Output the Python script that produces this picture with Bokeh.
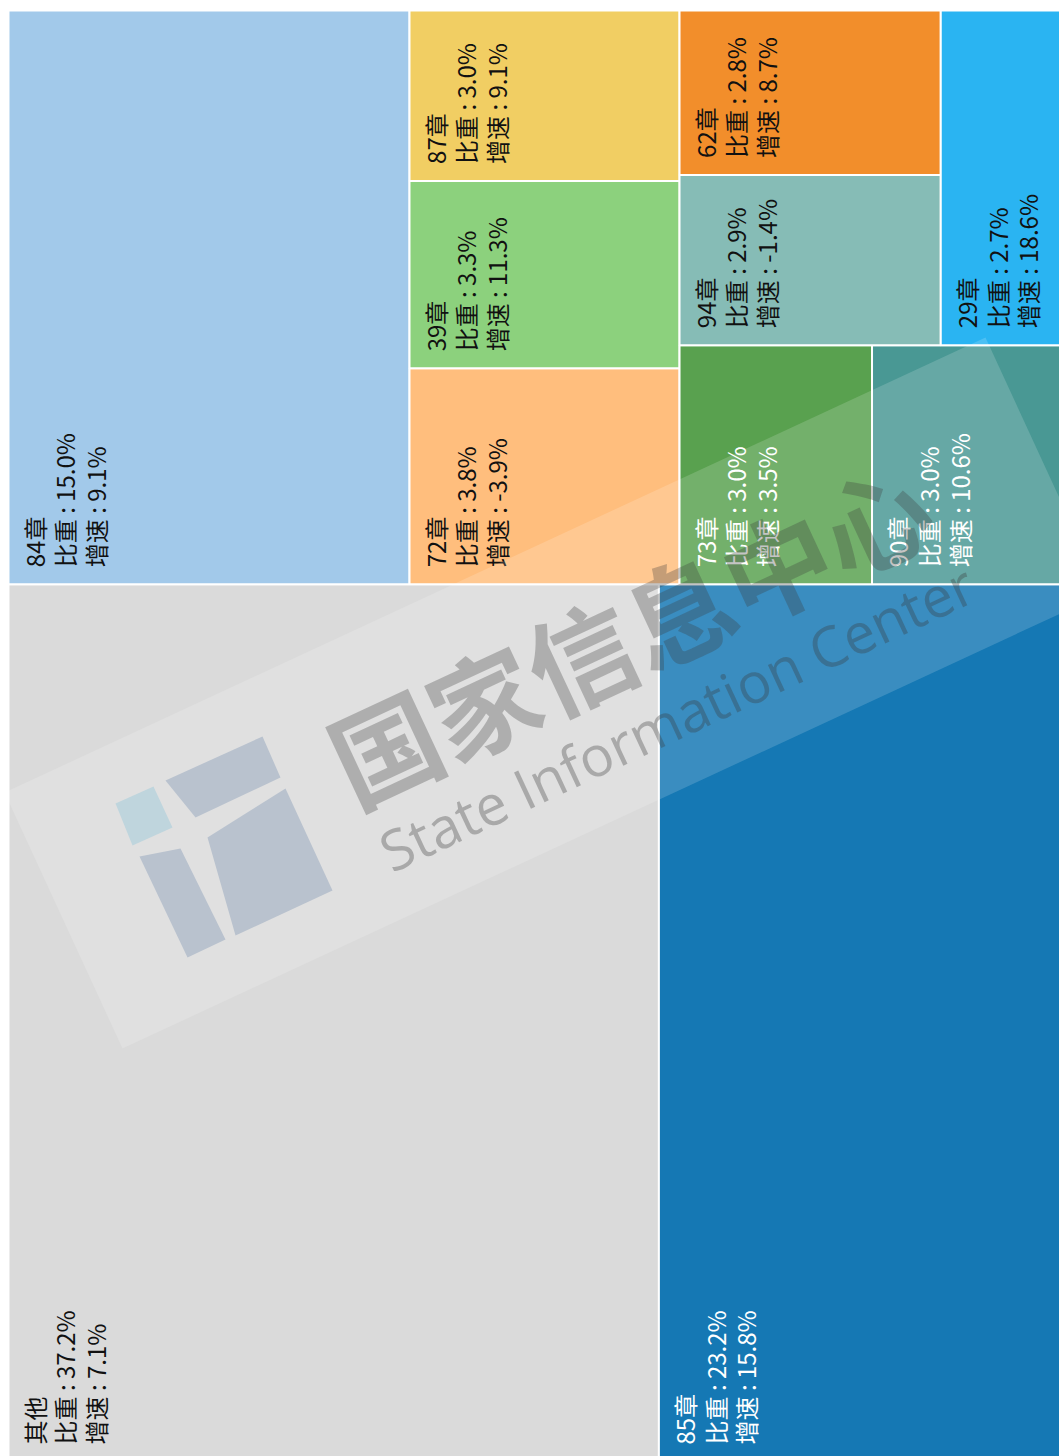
import math
from bokeh.plotting import figure
from bokeh.models import Range1d, ColumnDataSource
from bokeh.embed import file_html
from bokeh.resources import INLINE
from bokeh.core.properties import value

# ---------------- data ----------------
names = ["其他", "85章", "84章", "72章", "39章", "87章", "73章", "90章", "94章", "62章", "29章"]
shares = [37.2, 23.2, 15.0, 3.8, 3.3, 3.0, 3.0, 3.0, 2.9, 2.8, 2.7]      # 比重 %
growth = [7.1, 15.8, 9.1, -3.9, 11.3, 9.1, 3.5, 10.6, -1.4, 8.7, 18.6]   # 增速 %

# ---------------- styles ----------------
colors = ["#dadada", "#1578b4", "#a2c9ea", "#ffbe7d", "#8cd17d", "#f1ce63",
          "#59a14f", "#499894", "#86bcb6", "#f28e2b", "#2ab4f2"]
label_colors = ["#111111", "#ffffff", "#111111", "#111111", "#111111", "#111111",
                "#ffffff", "#ffffff", "#111111", "#111111", "#111111"]

# treemap extent (laid out horizontally, then shown rotated a quarter turn)
TW, TH = 1451.0, 1056.0
X0 = 8.0


def squarify(vals, W, H, ratio=(1 + 5 ** 0.5) / 2):
    total = float(sum(vals))
    areas = [v / total * W * H for v in vals]
    order = sorted(range(len(vals)), key=lambda i: -vals[i])
    rect = {"x": 0.0, "y": 0.0, "w": W, "h": H}
    out = [None] * len(vals)

    def worst(row, L):
        a = [areas[j] for j in row]
        s = sum(a)
        if s <= 0:
            return math.inf
        f = L * L * ratio
        return max(f * max(a) / (s * s), s * s / (f * min(a)))

    def position(row, L, flush):
        horiz = (L == rect["w"])
        s = sum(areas[j] for j in row)
        other = s / L if L else 0.0
        avail = rect["h"] if horiz else rect["w"]
        if flush or other > avail:
            other = avail
        last = rect["x"] if horiz else rect["y"]
        end = (rect["x"] + rect["w"]) if horiz else (rect["y"] + rect["h"])
        for k, j in enumerate(row):
            step = areas[j] / other if other else 0.0
            remain = end - last
            mod = remain if (k == len(row) - 1 or remain < step) else step
            if horiz:
                out[j] = (last, rect["y"], mod, other)
            else:
                out[j] = (rect["x"], last, other, mod)
            last += mod
        if horiz:
            rect["y"] += other
            rect["h"] -= other
        else:
            rect["x"] += other
            rect["w"] -= other

    L = min(W, H)
    best = math.inf
    row = []
    k = 0
    while k < len(order):
        row.append(order[k])
        sc = worst(row, L)
        if sc <= best:
            k += 1
            best = sc
        else:
            row.pop()
            position(row, L, False)
            L = min(rect["w"], rect["h"])
            row = []
            best = math.inf
    if row:
        position(row, L, True)
    return out


cells = squarify(shares, TW, TH)
# rotate: layout x -> plot y (upwards), layout y -> plot x (rightwards)
left = [X0 + c[1] for c in cells]
right = [X0 + c[1] + c[3] for c in cells]
bottom = [c[0] for c in cells]
top = [c[0] + c[2] for c in cells]

labels = ["%s\n比重 : %.1f%%\n增速 : %.1f%%" % (n, s, g) for n, s, g in zip(names, shares, growth)]

src = ColumnDataSource(dict(left=left, right=right, bottom=bottom, top=top,
                            color=colors, lcolor=label_colors, label=labels,
                            lx=[l + 8 for l in left], ly=[b + 17 for b in bottom]))

W_PX, H_PX = 1059, 1456
p = figure(width=W_PX, height=H_PX, output_backend="svg", toolbar_location=None,
           x_range=Range1d(0, W_PX), y_range=Range1d(5, 5 + H_PX),
           x_axis_type=None, y_axis_type=None, min_border=0,
           outline_line_color=None, background_fill_color="white",
           border_fill_color="white")
p.grid.visible = False

p.quad(left="left", right="right", bottom="bottom", top="top", source=src,
       fill_color="color", line_color="white", line_width=2)

p.text(x="lx", y="ly", text="label", source=src, angle=math.pi / 2,
       text_align="left", text_baseline="top", text_color="lcolor",
       text_font=value("Noto Sans CJK SC"), text_font_size="24px",
       text_line_height=0.88)

# ---------------- watermark (decoration) ----------------
def px(pts):
    return [q[0] for q in pts], [1461 - q[1] for q in pts]

band = [(4, 792), (985, 337), (1103, 593), (122, 1048)]
bx, by = px(band)
p.patch(bx, by, fill_color="white", fill_alpha=0.16, line_color=None)

logo_light = [(115, 803), (153, 786), (172, 827), (132, 845)]
logo_parts = [
    [(165, 780), (262, 736), (280, 777), (195, 817)],
    [(139, 856), (180, 848), (225, 939), (187, 957)],
    [(207, 837), (285, 788), (332, 890), (235, 935)],
]
lx_, ly_ = px(logo_light)
p.patch(lx_, ly_, fill_color="#bfd5dd", line_color=None)
for part in logo_parts:
    qx, qy = px(part)
    p.patch(qx, qy, fill_color="#b9c2ce", line_color=None)

ang = math.radians(25)
cx, cy = px([(628, 630)])
p.text(x=cx, y=cy, text=["国家信息中心"], angle=ang, text_align="center",
       text_baseline="middle", text_color="#3a3a3a", text_alpha=0.3,
       text_font=value("Noto Sans CJK SC"), text_font_size="108px",
       text_font_style="bold")
sx, sy = px([(676, 716)])
p.text(x=sx, y=sy, text=["State Information Center"], angle=ang, text_align="center",
       text_baseline="middle", text_color="#3a3a3a", text_alpha=0.33,
       text_font=value("Open Sans"), text_font_size="56px")

open("out.html", "w").write(file_html(p, INLINE))
